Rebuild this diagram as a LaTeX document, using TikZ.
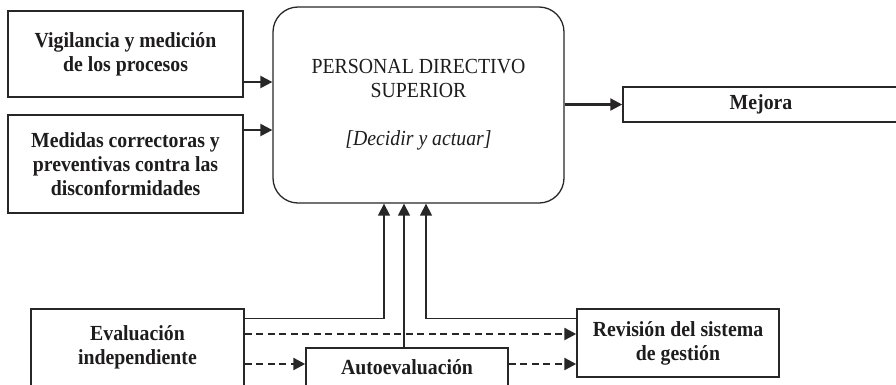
\documentclass[tikz,border=0pt]{standalone}
\usepackage{fontspec}
\setmainfont[FakeStretch=0.92]{Liberation Serif}
\usetikzlibrary{arrows.meta,calc}
\definecolor{lc}{RGB}{40,38,38}
\definecolor{tc}{RGB}{30,28,28}
\tikzset{
  box/.style={draw=lc, line width=1.5pt, fill=white, inner sep=0pt, align=center,
    font=\bfseries\fontsize{21.5}{24}\selectfont, text=tc},
  mainbox/.style={draw=lc, line width=1.3pt, fill=white, inner sep=0pt, align=center,
    rounded corners=25pt, font=\fontsize{21.5}{23.5}\selectfont, text=tc},
  tip/.style={-{Triangle[length=12pt,width=12pt]}},
  thickarr/.style={tip, draw=lc, line width=2.3pt},
  thinarr/.style={tip, draw=lc, line width=1.4pt},
  dasharr/.style={tip, draw=lc, line width=2.4pt, dash pattern=on 7pt off 4.5pt},
}
\begin{document}
\begin{tikzpicture}[x=1pt,y=-1pt]
\useasboundingbox (0,0) rectangle (896,384);
\clip (0,0) rectangle (896,384);
% nodes
\node[box, minimum width=235pt, minimum height=86pt] (vig) at (125.5,54) {Vigilancia y medición\\de los procesos};
\node[box, minimum width=235pt, minimum height=98pt] (med) at (125.5,164) {Medidas correctoras y\\preventivas contra las\\disconformidades};
\node[mainbox, minimum width=291pt, minimum height=196pt] (main) at (418.5,105) {PERSONAL DIRECTIVO\\SUPERIOR\\[25pt]\textit{[Decidir y actuar]}};
\node[box, minimum width=276pt, minimum height=35pt] (mej) at (761,104.5) {Mejora};
\node[box, minimum width=213pt, minimum height=77pt] (eva) at (137.5,347.5) {Evaluación\\independiente};
\node[box, minimum width=202pt, minimum height=38pt] (auto) at (407,367) {Autoevaluación};
\node[box, minimum width=202pt, minimum height=68pt] (rev) at (678,343) {Revisión del sistema\\de gestión};
% left inputs
\coordinate (v1) at ([yshift=-28pt]vig.east);
\coordinate (m1) at ([yshift=34pt]med.east);
\draw[thickarr] (v1) -- (v1 -| main.west);
\draw[thickarr] (m1) -- (m1 -| main.west);
% output
\draw[thickarr] (mej.west -| main.east) -- (mej.west);
% upward arrows
\coordinate (e1) at ([yshift=-10pt]eva.north east);
\coordinate (r1) at ([yshift=-10pt]rev.north west);
\coordinate (a1) at ([xshift=-3pt]auto.north);
\draw[thinarr] (e1) -| ([xshift=-34.5pt]main.south);
\draw[thinarr] (a1) -- (a1 |- main.south);
\draw[thinarr] (r1) -| ([xshift=7.5pt]main.south);
% dashed arrows
\coordinate (e2) at ([yshift=13.5pt]eva.east);
\coordinate (e3) at ([yshift=3pt]auto.west -| eva.east);
\coordinate (a2) at ([yshift=3pt]auto.east);
\draw[dasharr] (e2) -- (e2 -| rev.west);
\draw[dasharr] (e3) -- (e3 -| auto.west);
\draw[dasharr] (a2) -- (a2 -| rev.west);
\end{tikzpicture}
\end{document}
